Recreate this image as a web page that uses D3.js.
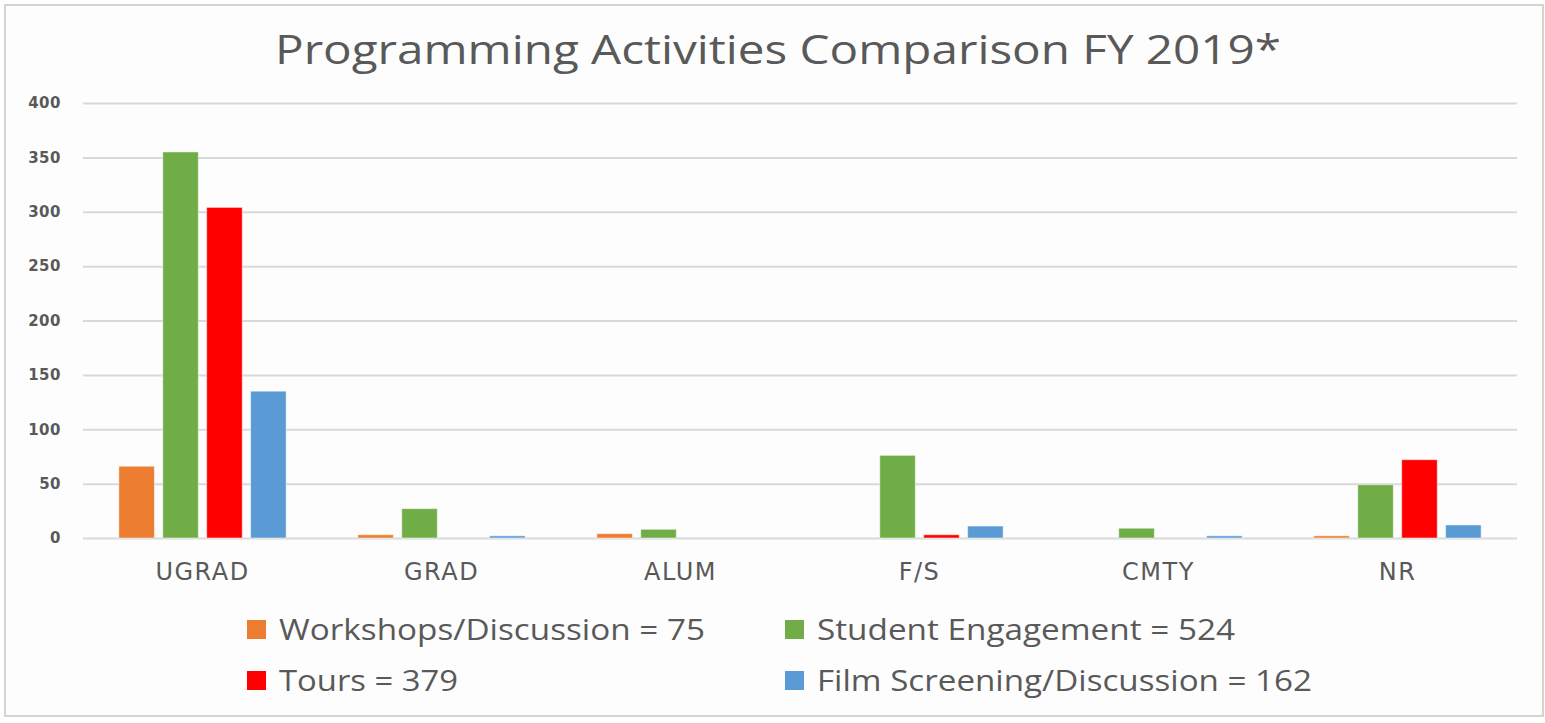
<!DOCTYPE html>
<html lang="en">
  <head>
    <meta charset="utf-8" />
    <title>Programming Activities Comparison FY 2019*</title>
    <script src="https://cdn.jsdelivr.net/npm/d3@7"></script>
    <style>
      body { margin: 0; background: #fff; }
      text { fill: #595959; }
    </style>
  </head>
  <body>
    <div id="chart"></div>
    <script type="text/javascript">
      // data
      const categories = ["UGRAD", "GRAD", "ALUM", "F/S", "CMTY", "NR"];
      const seriesNames = ["Workshops/Discussion", "Student Engagement", "Tours", "Film Screening/Discussion"];
      const workshops = [66, 3, 4, 0, 0, 2];
      const engagement = [355, 27, 8, 76, 9, 49];
      const tours = [304, 0, 0, 3, 0, 72];
      const films = [135, 2, 0, 11, 2, 12];
      const legendLabels = ["Workshops/Discussion = 75", "Student Engagement = 524", "Tours = 379", "Film Screening/Discussion = 162"];
      const yTicks = [0, 50, 100, 150, 200, 250, 300, 350, 400];

      const colors = ["#ED7D31", "#70AD47", "#FF0000", "#5B9BD5"];
      const values = [workshops, engagement, tours, films];

      const width = 1545, height = 723;
      const svg = d3.select("#chart").append("svg")
        .attr("width", width)
        .attr("height", height);

      // chart frame
      svg.append("rect")
        .attr("x", 5).attr("y", 5)
        .attr("width", 1538).attr("height", 711)
        .attr("fill", "#fdfdfd")
        .attr("stroke", "#d4d4d4")
        .attr("stroke-width", 2);

      svg.append("text")
        .attr("x", 778).attr("y", 64)
        .attr("text-anchor", "middle")
        .attr("font-family", "Open Sans")
        .attr("font-size", 40)
        .attr("textLength", 1006)
        .attr("lengthAdjust", "spacingAndGlyphs")
        .text("Programming Activities Comparison FY 2019*");

      const x0 = d3.scaleBand()
        .domain(categories)
        .range([83, 1517])
        .paddingInner(0.3)
        .paddingOuter(0.15);
      const x1 = d3.scaleBand()
        .domain(seriesNames)
        .range([0, x0.bandwidth()])
        .paddingInner(0.19);
      const y = d3.scaleLinear().domain([0, 400]).range([538, 103]);

      // gridlines + tick labels
      const yAxis = d3.axisLeft(y).tickValues(yTicks).tickSize(-(1517 - 83)).tickPadding(22);
      const ga = svg.append("g").attr("transform", "translate(83,0)").call(yAxis);
      ga.select(".domain").remove();
      ga.selectAll(".tick line").attr("stroke", "#d9d9d9").attr("stroke-width", 2);
      ga.selectAll(".tick text")
        .attr("font-family", "DejaVu Sans")
        .attr("font-size", 15)
        .attr("font-weight", "bold")
        .attr("letter-spacing", 0.5)
        .attr("fill", "#595959");

      // bars
      const groups = svg.append("g").selectAll("g")
        .data(categories)
        .join("g")
        .attr("transform", d => `translate(${x0(d)},0)`);

      groups.selectAll("rect")
        .data((d, i) => seriesNames.map((s, k) => ({ s, k, v: values[k][i] })))
        .join("rect")
        .filter(d => d.v > 0)
        .attr("x", d => x1(d.s))
        .attr("y", d => y(d.v))
        .attr("width", x1.bandwidth())
        .attr("height", d => y(0) - y(d.v))
        .attr("fill", d => colors[d.k])
        .attr("stroke", "#ffffff")
        .attr("stroke-opacity", 0.5)
        .attr("stroke-width", 1);

      // category labels
      const xAxis = d3.axisBottom(x0).tickSize(0).tickPadding(0);
      const gx = svg.append("g").attr("transform", "translate(0,580)").call(xAxis);
      gx.select(".domain").remove();
      gx.selectAll(".tick text")
        .attr("dy", 0)
        .attr("font-family", "DejaVu Sans")
        .attr("font-size", 24)
        .attr("letter-spacing", 1.5)
        .attr("fill", "#595959");

      // legend
      const legendX = [247, 785];
      const legendY = [640, 691];
      const legendW = [426, 418, 179, 495];
      const lg = svg.append("g").selectAll("g")
        .data(legendLabels)
        .join("g")
        .attr("transform", (d, i) => `translate(${legendX[i % 2]},${legendY[Math.floor(i / 2)]})`);
      lg.append("rect")
        .attr("x", 0).attr("y", -20)
        .attr("width", 19).attr("height", 19)
        .attr("fill", (d, i) => colors[i]);
      lg.append("text")
        .attr("x", 32).attr("y", 0)
        .attr("font-family", "Open Sans")
        .attr("font-size", 29)
        .attr("textLength", (d, i) => legendW[i])
        .attr("lengthAdjust", "spacingAndGlyphs")
        .text(d => d);
    </script>
  </body>
</html>
